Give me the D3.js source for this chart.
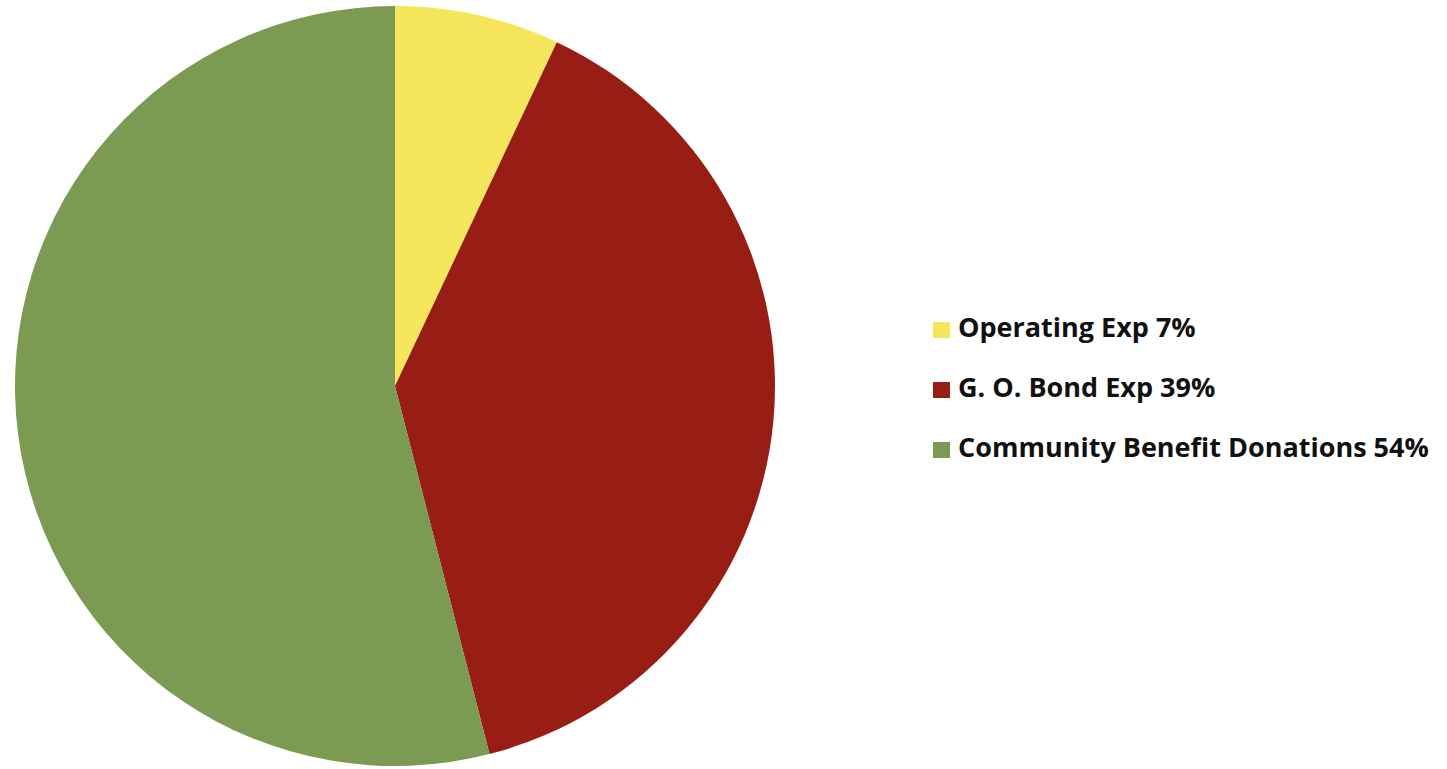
<!DOCTYPE html>
<html>
<head>
<meta charset="utf-8">
<script src="https://cdn.jsdelivr.net/npm/d3@7"></script>
<style>
  html, body { margin: 0; padding: 0; background: #ffffff; }
  svg { display: block; }
</style>
</head>
<body>
<svg id="chart" width="1447" height="769"></svg>
<script>
// Expense breakdown (percent of total)
const categories = ["Operating Exp", "G. O. Bond Exp", "Community Benefit Donations"];
const values = [7, 39, 54];
const colors = ["#f6e65c", "#981d15", "#7b9a52"];

const svg = d3.select("#chart");
const cx = 395, cy = 386, radius = 380;

const pie = d3.pie().sort(null).value(d => d.value);
const arc = d3.arc().innerRadius(0).outerRadius(radius);

const data = categories.map((c, i) => ({ name: c, value: values[i], color: colors[i] }));

svg.append("g")
  .attr("transform", `translate(${cx},${cy})`)
  .selectAll("path")
  .data(pie(data))
  .join("path")
  .attr("d", arc)
  .attr("fill", d => d.data.color);

// Legend: swatch + label on a shared baseline per row
const legend = svg.append("g").attr("transform", "translate(933,337)");
const rows = legend.selectAll("g")
  .data(data)
  .join("g")
  .attr("transform", (d, i) => `translate(0,${i * 60})`);

rows.append("rect")
  .attr("x", 0).attr("y", -15)
  .attr("width", 17).attr("height", 16)
  .attr("fill", d => d.color);

rows.append("text")
  .attr("x", 25).attr("y", 0)
  .attr("font-family", "'Open Sans', Lato, sans-serif")
  .attr("font-weight", "bold")
  .attr("font-size", 27)
  .attr("fill", "#111")
  .text(d => `${d.name} ${d.value}%`);
</script>
</body>
</html>
